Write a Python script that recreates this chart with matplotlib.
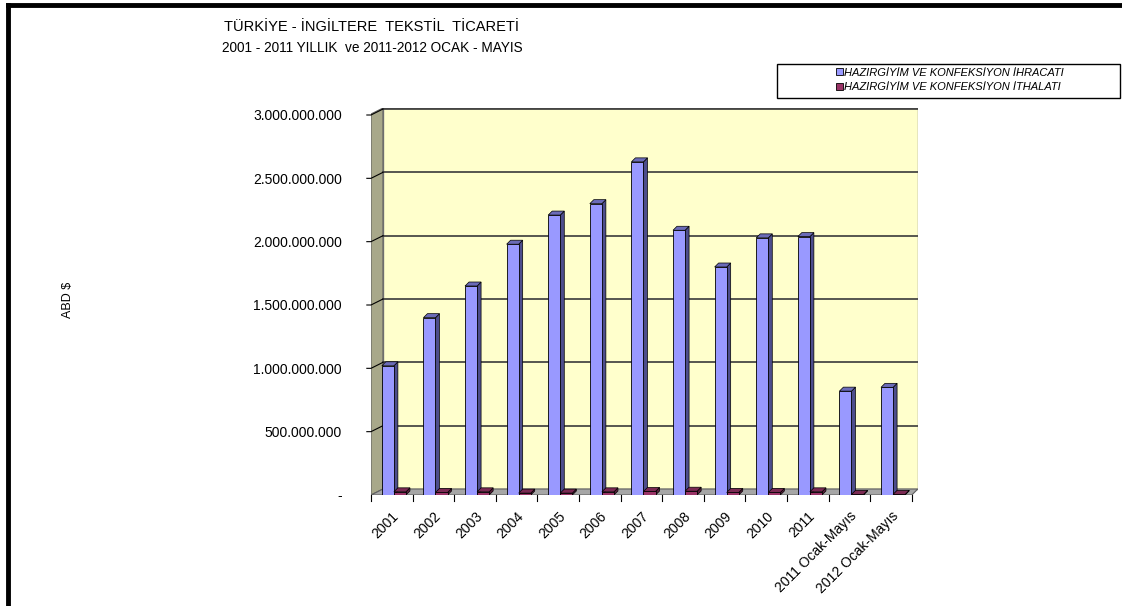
import matplotlib
matplotlib.use('Agg')
from matplotlib import pyplot as plt
from matplotlib.patches import Polygon, Rectangle
from matplotlib.lines import Line2D

plt.rcParams['font.family'] = ['Liberation Sans', 'DejaVu Sans']

years = ['2001', '2002', '2003', '2004', '2005', '2006', '2007', '2008',
         '2009', '2010', '2011', '2011 Ocak-Mayıs', '2012 Ocak-Mayıs']
ihracat = [1020e6, 1400e6, 1650e6, 1980e6, 2210e6, 2300e6, 2630e6, 2090e6,
           1800e6, 2030e6, 2040e6, 820e6, 850e6]
ithalat = [25e6, 20e6, 25e6, 15e6, 15e6, 25e6, 28e6, 30e6, 20e6, 20e6, 25e6, 5e6, 5e6]
yticks = [0, 500e6, 1000e6, 1500e6, 2000e6, 2500e6, 3000e6]

n = len(years)
px_x = 41.6            # pixels per category
px_y = 3e9 / 380       # dollars per pixel
ymax = 3e9 + 7 * px_y
dxl, dxr, dyw = 12 / px_x, 6 / px_x, 6 * px_y   # wall depth
dxb, dyb = 4 / px_x, 4 * px_y                   # bar depth
bw = 0.29


def fmt(v):
    return '-' if v == 0 else '{:,.0f}'.format(v).replace(',', '.')


fig = plt.figure(figsize=(11.22, 6.06), dpi=100)
ax = fig.add_axes([371 / 1122, 111 / 606, 547 / 1122, 387 / 606])
ax.set_xlim(0, 547 / px_x)
ax.set_ylim(0, ymax)
for s in ax.spines.values():
    s.set_visible(False)

# walls and floor
ax.add_patch(Rectangle((dxl, dyw), n + dxr - dxl, ymax - dyw, fc='#FFFFCC', ec='#808080', lw=1, zorder=0))
ax.add_patch(Polygon([(0, 0), (dxl, dyw), (dxl, ymax), (0, ymax - dyw)], closed=True,
                     fc='#A8A88A', ec='#606060', lw=0.8, zorder=1))
ax.add_patch(Polygon([(0, 0), (n, 0), (n + dxr, dyw), (dxl, dyw)], closed=True,
                     fc='#A6A6A6', ec='#606060', lw=0.8, zorder=1))
for v in yticks[1:]:
    ax.plot([dxl, n + dxr], [v + dyw, v + dyw], color='#3A3A3A', lw=1.2, zorder=1)
    ax.plot([-0.1, 0, dxl], [v, v, v + dyw], color='black', lw=0.8, zorder=1, clip_on=False)


def bar3d(vals, off, front, side, top):
    xs = [i + off for i in range(n)]
    ax.bar(xs, vals, width=bw, align='edge', color=front, edgecolor='black', lw=0.6, zorder=3)
    for x, h in zip(xs, vals):
        r = x + bw
        ax.add_patch(Polygon([(r, 0), (r + dxb, dyb), (r + dxb, h + dyb), (r, h)], closed=True,
                             fc=side, ec='black', lw=0.5, zorder=2))
        ax.add_patch(Polygon([(x, h), (r, h), (r + dxb, h + dyb), (x + dxb, h + dyb)], closed=True,
                             fc=top, ec='black', lw=0.5, zorder=3))


bar3d(ihracat, 0.26, '#9999FF', '#4D4D8C', '#6B6BB8')
bar3d(ithalat, 0.55, '#993366', '#5C1F3D', '#7A2952')

ax.set_yticks(yticks)
ax.set_yticklabels([fmt(v) for v in yticks], fontsize=10)
ax.tick_params(axis='y', length=0, pad=21)
ax.set_xticks([i + 0.5 for i in range(n)])
ax.set_xticklabels(years, rotation=45, ha='right', rotation_mode='anchor', fontsize=10)
ax.tick_params(axis='x', length=0, pad=10)
for i in range(n + 1):
    ax.plot([i, i], [0, -6 * px_y], color='black', lw=0.8, clip_on=False, zorder=4)

fig.text(372 / 1122, 1 - 27 / 606, 'TÜRKİYE - İNGİLTERE  TEKSTİL  TİCARETİ', ha='center', va='center', fontsize=10.5)
fig.text(372 / 1122, 1 - 48 / 606, '2001 - 2011 YILLIK  ve 2011-2012 OCAK - MAYIS', ha='center', va='center', fontsize=9.8)
fig.text(68 / 1122, 1 - 300 / 606, 'ABD $', rotation=90, ha='center', va='center', fontsize=9)

# legend
fig.patches.append(Rectangle((777 / 1122, 1 - 98 / 606), 343 / 1122, 34 / 606, transform=fig.transFigure,
                             fc='white', ec='black', lw=1))
handles = [Rectangle((0, 0), 1, 1, fc='#9999FF', ec='black', lw=0.6),
           Rectangle((0, 0), 1, 1, fc='#993366', ec='black', lw=0.6)]
fig.legend(handles, ['HAZIRGİYİM VE KONFEKSİYON İHRACATI', 'HAZIRGİYİM VE KONFEKSİYON İTHALATI'],
           loc='center', bbox_to_anchor=(950 / 1122, 1 - 80 / 606), frameon=False,
           prop={'size': 8, 'style': 'italic'}, handlelength=0.6, handleheight=0.6,
           handletextpad=0.15, labelspacing=0.45, borderpad=0)

# outer frame (left and top edges)
fig.add_artist(Line2D([8 / 1122, 8 / 1122], [0, 1 - 5 / 606], color='black', lw=3.5))
fig.add_artist(Line2D([8 / 1122, 1], [1 - 5 / 606, 1 - 5 / 606], color='black', lw=3.5))

fig.savefig('out.png', dpi=100)
